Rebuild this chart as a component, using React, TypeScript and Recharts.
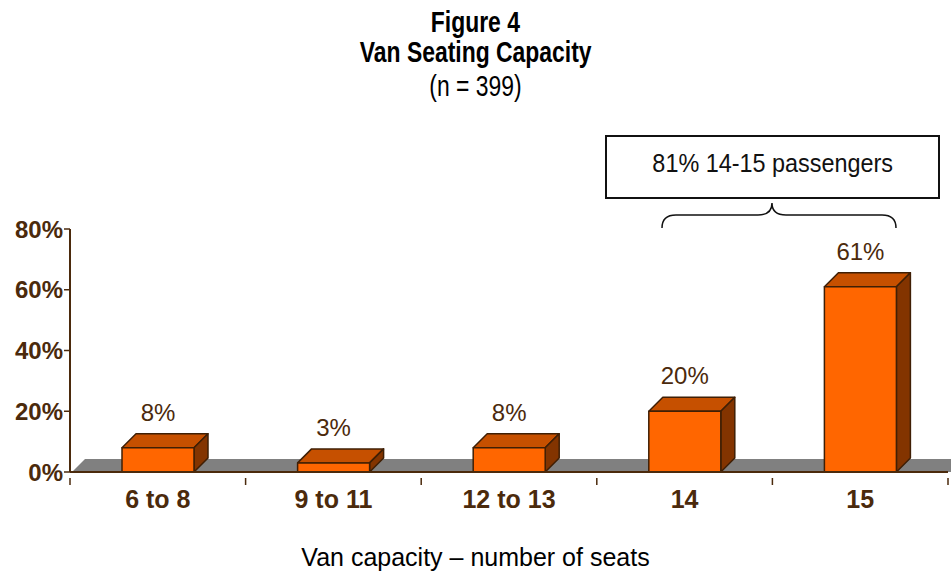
import React from "react";
import {
  BarChart,
  Bar,
  XAxis,
  YAxis,
  ReferenceArea,
  LabelList,
} from "recharts";

const categories = ["6 to 8", "9 to 11", "12 to 13", "14", "15"];
const shares = [8, 3, 8, 20, 61];
const yTicks = [0, 20, 40, 60, 80];

const data = categories.map((name, i) => ({ name, value: shares[i] }));

const W = 951;
const H = 571;
const MARGIN = { top: 229, right: 3, left: 0, bottom: 69 };
const Y_AXIS_W = 70;
const BAND = (W - MARGIN.right - MARGIN.left - Y_AXIS_W) / categories.length;
const DEPTH = 14;

const brown = "#4b2a0c";
const edge = "#3f1f05";
const sans = '"Liberation Sans", Arial, sans-serif';

// 3D box: front face, top face, right side
const Box3D = (props: any) => {
  const { x, y, width, height } = props;
  const d = DEPTH;
  return (
    <g stroke={edge} strokeWidth={1.5} strokeLinejoin="round">
      <polygon
        points={`${x},${y} ${x + d},${y - d} ${x + width + d},${y - d} ${x + width},${y}`}
        fill="#c65000"
      />
      <polygon
        points={`${x + width},${y} ${x + width + d},${y - d} ${x + width + d},${y + height - d} ${x + width},${y + height}`}
        fill="#833400"
      />
      <rect x={x} y={y} width={width} height={height} fill="#ff6600" />
    </g>
  );
};

// grey floor under the bars
const Floor = (props: any) => {
  const { x, y, width, height } = props;
  const bottom = y + height;
  const d = DEPTH - 1;
  return (
    <polygon
      points={`${x + 2},${bottom} ${x + width + d},${bottom} ${x + width + d},${bottom - d} ${x + d + 2},${bottom - d}`}
      fill="#808080"
    />
  );
};

const ValueLabel = (props: any) => {
  const { x, y, width, value } = props;
  return (
    <text
      x={x + width / 2}
      y={y - 27}
      textAnchor="middle"
      fill={brown}
      fontSize={24}
      fontFamily={sans}
    >
      {`${value}%`}
    </text>
  );
};

const XTick = (props: any) => {
  const { x, y, payload, index } = props;
  const axisY = y - 13;
  const left = x - BAND / 2;
  return (
    <g>
      <line x1={left} y1={axisY} x2={left} y2={axisY + 7} stroke={brown} strokeWidth={1.5} />
      {index === categories.length - 1 && (
        <line x1={x + BAND / 2} y1={axisY} x2={x + BAND / 2} y2={axisY + 7} stroke={brown} strokeWidth={1.5} />
      )}
      <text
        x={x}
        y={y + 17}
        textAnchor="middle"
        fill={brown}
        fontSize={25}
        fontWeight="bold"
        fontFamily={sans}
      >
        {payload.value}
      </text>
    </g>
  );
};

// narrow face imitation: squeeze Liberation Sans horizontally
const Narrow: React.FC<{ top: number; size: number; bold?: boolean; scale: number; children: React.ReactNode }> = ({
  top,
  size,
  bold,
  scale,
  children,
}) => (
  <div
    style={{
      position: "absolute",
      left: 0,
      top,
      width: W,
      textAlign: "center",
      lineHeight: "34px",
      whiteSpace: "nowrap",
    }}
  >
    <span
      style={{
        display: "inline-block",
        transform: `scaleX(${scale})`,
        fontFamily: sans,
        fontSize: size,
        fontWeight: bold ? "bold" : "normal",
        color: "#000",
      }}
    >
      {children}
    </span>
  </div>
);

const App: React.FC = () => {
  return (
    <div style={{ position: "absolute", left: 0, top: 0, width: W, height: H, background: "#fff" }}>
      <Narrow top={5} size={29} bold scale={0.79}>
        Figure 4
      </Narrow>
      <Narrow top={35} size={29} bold scale={0.79}>
        Van Seating Capacity
      </Narrow>
      <Narrow top={69} size={29} scale={0.79}>
        (n = 399)
      </Narrow>

      <div
        style={{
          position: "absolute",
          left: 605,
          top: 135,
          width: 335,
          height: 64,
          boxSizing: "border-box",
          border: "2px solid #111",
          display: "flex",
          alignItems: "center",
          justifyContent: "center",
          paddingBottom: 8,
          whiteSpace: "nowrap",
        }}
      >
        <span
          style={{
            display: "inline-block",
            transform: "scaleX(0.9)",
            fontFamily: sans,
            fontSize: 26,
            color: "#111",
          }}
        >
          81% 14-15 passengers
        </span>
      </div>

      <svg
        width={W}
        height={H}
        style={{ position: "absolute", left: 0, top: 0, pointerEvents: "none" }}
      >
        <path
          d="M662,228 Q662,215 676,215 L758,215 Q772,215 772,203 Q772,215 786,215 L882,215 Q896,215 896,228"
          fill="none"
          stroke="#111"
          strokeWidth={1.5}
        />
      </svg>

      <div style={{ position: "absolute", left: 0, top: 0 }}>
        <BarChart width={W} height={H} data={data} margin={MARGIN} barSize={72}>
          <ReferenceArea y1={0} y2={4} shape={<Floor />} ifOverflow="visible" />
          <XAxis
            dataKey="name"
            height={30}
            tickLine={false}
            tickMargin={13}
            tick={<XTick />}
            axisLine={{ stroke: brown, strokeWidth: 2 }}
            interval={0}
          />
          <YAxis
            width={Y_AXIS_W}
            domain={[0, 80]}
            ticks={yTicks}
            tickFormatter={(v) => `${v}%`}
            tick={{ fill: brown, fontSize: 24, fontWeight: "bold", fontFamily: sans }}
            tickMargin={1}
            tickLine={{ stroke: brown, strokeWidth: 1.5 }}
            axisLine={{ stroke: brown, strokeWidth: 2 }}
          />
          <Bar dataKey="value" shape={<Box3D />} isAnimationActive={false}>
            <LabelList dataKey="value" content={<ValueLabel />} />
          </Bar>
        </BarChart>
      </div>

      <div
        style={{
          position: "absolute",
          left: 0,
          top: 542,
          width: W,
          textAlign: "center",
          fontFamily: sans,
          fontSize: 25,
          color: "#000",
          lineHeight: "30px",
        }}
      >
        Van capacity – number of seats
      </div>
    </div>
  );
};

export default App;
